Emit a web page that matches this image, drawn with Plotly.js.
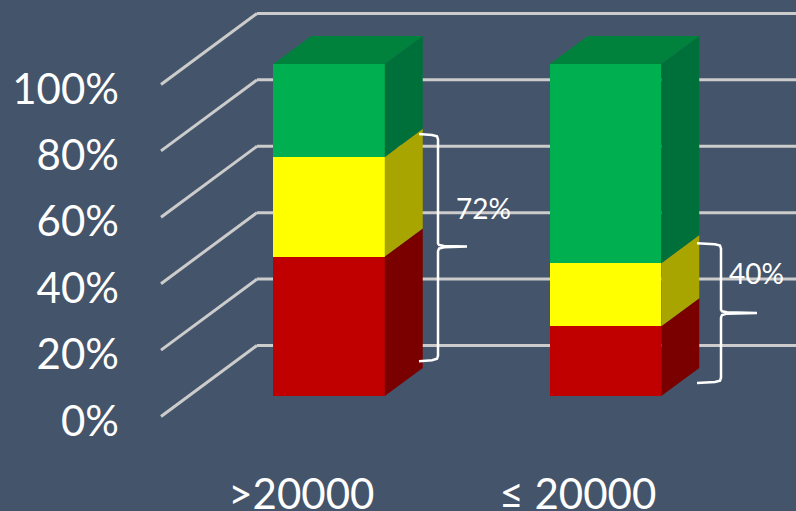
<!DOCTYPE html>
<html>
<head>
<meta charset="utf-8">
<script src="https://cdn.plot.ly/plotly-3.0.1.min.js"></script>
<style>html,body{margin:0;padding:0;background:#44546A;}</style>
</head>
<body>
<div id="chart" style="width:796px;height:511px;"></div>
<script>
// Share of each band per category, in percent
const categories = [">20000", "\u2264 20000"];
const redBand = [42, 21];
const yellowBand = [30, 19];
const greenBand = [28, 60];
const bracketLabels = ["72%", "40%"];
const gridLevels = [0, 20, 40, 60, 80, 100];
const gridLabels = ["0%", "20%", "40%", "60%", "80%", "100%"];

// Horizontal axis runs in pixels-like units so the oblique depth stays simple
const barCentres = [329, 605.5];
const barWidth = 111.5;
const pxPerPercent = 3.32;
const riseRatio = 0.74 / pxPerPercent;   // percent of height gained per unit of depth
const barDepth = 38;
const wallFront = -27.7;
const wallBack = 68.3;
const labelDrop = 7.5;                   // percent offset of the axis labels under the front wall

const sideColors = ["#7A0000", "#A8A500", "#00703A"];
const frontColors = ["#C00000", "#FFFF00", "#00B050"];
const topColor = "#00823C";
const gridColor = "#CCCCCC";

const project = (x, v, d) => [x + d, v + d * riseRatio];

const traces = [];

// Front faces
[redBand, yellowBand, greenBand].forEach((vals, i) => {
  traces.push({
    type: "bar", x: barCentres, y: vals, width: barWidth,
    marker: {color: frontColors[i], line: {width: 0}},
    hoverinfo: "skip", showlegend: false
  });
});

// Side faces and the top cap of each column
function polygon(points, color) {
  traces.push({
    type: "scatter", mode: "lines", fill: "toself", fillcolor: color,
    x: points.map(p => p[0]), y: points.map(p => p[1]),
    line: {width: 0, color: color}, hoverinfo: "skip", showlegend: false
  });
}
barCentres.forEach((c, b) => {
  const right = c + barWidth / 2, left = c - barWidth / 2;
  let base = 0;
  [redBand, yellowBand, greenBand].forEach((vals, i) => {
    const top = base + vals[b];
    polygon([project(right, base, 0), project(right, top, 0),
             project(right, top, barDepth), project(right, base, barDepth),
             project(right, base, 0)], sideColors[i]);
    base = top;
  });
  polygon([project(left, base, 0), project(right, base, 0),
           project(right, base, barDepth), project(left, base, barDepth),
           project(left, base, 0)], topColor);
});

// Curly brackets next to the columns
const bracketTips = [[419, 438, 467], [697, 721, 757]];
const bracketSpans = [[78.9, 45, 10.5], [46, 25, 3.9]];
bracketTips.forEach((t, i) => {
  const [tip, spine, point] = t;
  const [hi, mid, lo] = bracketSpans[i];
  const xs = [tip, spine - 6, spine - 1, spine, spine, spine + 1, spine + 6, point, spine + 6, spine + 1, spine, spine, spine - 1, spine - 6, tip];
  const ys = [hi, hi - 0.3, hi - 0.7, hi - 1.6, mid + 1, mid + 0.5, mid + 0.2, mid, mid - 0.2, mid - 0.6, mid - 1.4, lo + 1.6, lo + 0.7, lo + 0.3, lo];
  traces.push({
    type: "scatter", mode: "lines", x: xs, y: ys,
    line: {color: "#FFFFFF", width: 2.5}, hoverinfo: "skip", showlegend: false
  });
});

// Wall and floor lines sit behind everything
const shapes = [];
gridLevels.forEach(v => {
  const start = [161, v + wallFront * riseRatio];
  const corner = [257, v + wallBack * riseRatio];
  shapes.push({type: "line", layer: "below", xref: "x", yref: "y",
    x0: start[0], y0: start[1], x1: corner[0], y1: corner[1],
    line: {color: gridColor, width: 3}});
  shapes.push({type: "line", layer: "below", xref: "x", yref: "y",
    x0: corner[0], y0: corner[1], x1: 796, y1: corner[1],
    line: {color: gridColor, width: 3}});
});

const annotations = bracketLabels.map((text, i) => ({
  x: [483, 756][i], y: [56.5, 37][i], xref: "x", yref: "y",
  text: text, showarrow: false,
  font: {family: "Lato, sans-serif", size: 28, color: "#FFFFFF"}
}));

const layout = {
  width: 796, height: 511,
  margin: {l: 120, r: 0, t: 0, b: 45, pad: 0},
  paper_bgcolor: "#44546A", plot_bgcolor: "#44546A",
  barmode: "stack", showlegend: false,
  font: {family: "Lato, sans-serif", color: "#FFFFFF"},
  xaxis: {
    range: [120, 796], showgrid: false, zeroline: false, showline: false, ticks: "",
    tickmode: "array", tickvals: barCentres.map(c => c + wallFront), ticktext: categories,
    tickfont: {family: "Lato, sans-serif", size: 42, color: "#FFFFFF"}, fixedrange: true
  },
  yaxis: {
    range: [-70 / pxPerPercent, 396 / pxPerPercent],
    showgrid: false, zeroline: false, showline: false, ticks: "",
    tickmode: "array", tickvals: gridLevels.map(v => v - labelDrop), ticktext: gridLabels,
    tickfont: {family: "Lato, sans-serif", size: 42, color: "#FFFFFF"}, fixedrange: true
  },
  shapes: shapes,
  annotations: annotations
};

Plotly.newPlot("chart", traces, layout, {displayModeBar: false, staticPlot: true});
</script>
</body>
</html>
